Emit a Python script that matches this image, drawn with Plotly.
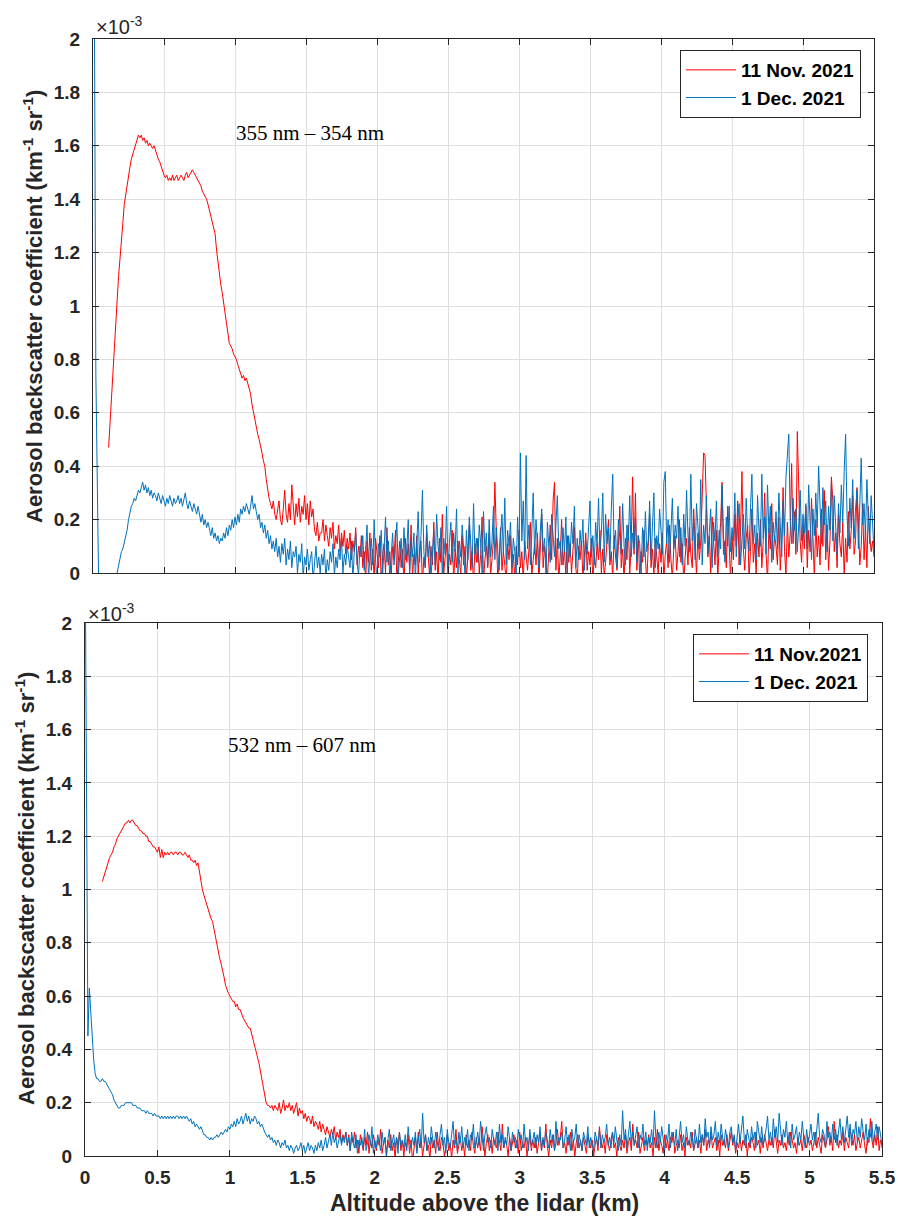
import numpy as np
import plotly.graph_objects as go

# ---------------- data (values in units of 1e-5 km^-1 sr^-1, i.e. 100 = 1e-3) ----------------
STEP_KM = 0.01

# Top panel: 355 nm - 354 nm
nov355_start = 0.11
nov355_profile = [
    47, 57, 67, 77, 86, 94, 102, 111, 119, 125,
    131, 138, 142, 145, 148, 152, 155, 157, 159, 160,
    162, 164, 163, 164, 162, 163, 161, 162, 160, 161,
    160, 159, 160, 158, 157, 155, 154, 152, 151, 149,
    148, 149, 147, 148, 147, 149, 147, 148, 149, 147,
    148, 149, 148, 147, 149, 150, 148, 149, 150, 151,
    150, 149, 148, 147, 146, 145, 143, 142, 141, 140,
    138, 136, 134, 132, 130, 127, 121, 116, 111, 108,
    105, 101, 98, 95, 90, 86, 85, 84, 82, 81,
    80, 78, 76, 74, 73, 74, 72, 73, 71, 70,
    67, 63, 60, 58, 55, 52, 50, 48, 45, 42,
    40, 35, 31, 28, 26, 24, 27, 22, 20, 24,
    27, 20, 18, 24, 31, 22, 19, 26, 20, 33,
    24, 18, 26, 21, 28, 19, 25, 22, 29, 20,
    26, 18, 27, 21, 24, 16, 14, 19, 12, 15,
    15, 20, 12, 18, 14, 10, 17, 13, 19, 9,
    14, 11, 18, 8, 15, 10, 16, 7, 13, 9,
    15, 5, 12, 8, 17, 3, 10, 6, 14, 2,
]
nov355_noise = [
    8, -3, 12, 4, 15, 1, 9, -2, 13, 6,
    2, 14, -4, 7, 11, 0, 17, 3, 8, -1,
    10, 5, 16, -3, 6, 12, 2, 9, -5, 13,
    4, 11, 1, 18, -2, 7, 3, 14, 0, 9,
    12, -4, 6, 2, 15, 5, -1, 10, 3, 19,
    1, 8, -3, 13, 4, 22, 0, 6, 11, -2,
    7, 3, 16, -4, 9, 2, 12, 5, -1, 14,
    3, 10, -2, 6, 18, 1, 8, -5, 11, 4,
    13, 0, 7, 21, -3, 5, 10, 2, 15, -1,
    6, 12, 34, 9, -2, 4, 17, 1, 8, 3,
    -4, 11, 5, 14, 0, 7, -2, 10, 3, 16,
    2, 8, -3, 12, 5, 1, 9, 19, -1, 6,
    11, 3, 15, -4, 7, 22, 2, 10, 4, -2,
    8, 18, 5, 27, 34, 1, 13, -3, 6, 20,
    3, 9, -1, 14, 4, 11, 0, 7, 17, 2,
    -3, 10, 5, 12, -2, 6, 15, 1, 8, 3,
    13, -4, 7, 2, 11, 5, 16, 0, 9, -1,
    4, 12, 20, 3, 8, -2, 14, 6, 1, 10,
    25, 2, 9, -3, 13, 5, 18, 0, 11, 36,
    7, 30, 1, 14, -2, 8, 4, 16, 3, -4,
    10, 22, 2, 9, -1, 13, 6, 0, 11, 4,
    15, -3, 7, 12, 2, 18, 5, -2, 9, 14,
    1, 8, 20, 4, 11, -4, 6, 13, 3, 17,
    7, 2, 24, 10, -1, 15, 5, 12, 26, 45,
    44, 28, 6, 14, 0, 21, 9, 3, 16, -2,
    11, 19, 34, 7, 12, 2, 25, 8, -3, 14,
    5, 22, 10, 27, 3, 16, 38, 9, 1, 13,
    18, -2, 8, 24, 4, 11, 0, 15, 6, 20,
    2, 12, 30, 7, -3, 17, 9, 26, 5, 14,
    10, 3, 21, 1, 13, 32, 8, -1, 19, 6,
    15, 41, 11, 23, 7, 53, 30, 12, 4, 18,
    9, 25, 2, 16, 8, 28, 13, -2, 20, 6,
    14, 3, 24, 10, 31, 5, 18, 1, 12, 36,
    27, 8, 15, 2, 22, 11, 6, 19, -1, 13,
    4, 23, 9, 16, 29, 7, 12, 32, 20, 3,
    10, 26, 5, 17, 2, 25, 14, 8, 12, 6,
]

dec355_near_start = 0.0
dec355_near = [260, 210, 75, 28, -5]
dec355_start = 0.17
dec355_profile = [
    0, 3, 6, 8, 9, 11, 14, 16, 20, 23, 25, 26, 28, 27,
    29, 31, 30, 32, 34, 31, 33, 30, 32, 29,
    31, 28, 30, 29, 27, 30, 28, 26, 29, 27,
    25, 28, 26, 29, 27, 25, 28, 26, 27, 29,
    26, 28, 25, 27, 30, 26, 24, 27, 25, 23,
    26, 24, 22, 25, 21, 19, 22, 18, 20, 17,
    19, 16, 14, 17, 13, 15, 12, 14, 11, 13,
    12, 15, 13, 17, 14, 18, 16, 20, 17, 21,
    18, 22, 19, 24, 22, 25, 23, 26, 24, 22,
    25, 29, 24, 26, 23, 20, 22, 17, 19, 15,
    18, 13, 16, 11, 14, 9, 12, 8, 13, 6,
    10, 4, 11, 7, 13, 3, 9, 5, 12, 2,
    8, 6, 10, 0, 7, 4, 11, -2, 6, 3,
    9, 1, 5, 8, -3, 4, 10, 2, 6, 0,
    7, 3, 9, -2, 5, 1, 8, 4, 11, -1,
    6, 2, 9, 5, 13, 0, 7, 3, 10, 6,
]
dec355_noise = [
    2, 12, -3, 8, 15, 4, -1, 10, 6, 14,
    1, 9, 18, -2, 7, 13, 3, 20, 5, -4,
    11, 6, 16, 0, 9, 21, 4, 12, -2, 8,
    15, 3, 10, 19, -1, 7, 13, 2, 17, 5,
    9, 20, 0, 12, 6, 15, -3, 11, 23, 4,
    14, 31, 8, 2, 18, 6, 12, -2, 9, 16,
    3, 22, 10, 5, 17, -1, 13, 7, 25, 2,
    11, 19, 4, 15, 8, 24, 0, 12, 6, 18,
    9, -2, 16, 5, 21, 10, 2, 26, 7, 13,
    4, 18, 11, 0, 23, 8, 15, 3, 20, 6,
    12, 25, 5, 17, 9, 1, 14, 22, 7, 28,
    3, 16, 10, 19, 2, 13, 8, 0, 21, 6,
    45, 12, 27, 5, 44, 9, 18, 3, 15, 30,
    7, 20, 11, 2, 16, 24, 8, 13, -1, 19,
    10, 4, 22, 15, 6, 18, 29, 9, 12, 3,
    17, 8, 21, 0, 14, 6, 19, 11, 25, 2,
    13, 5, 16, 9, 20, 1, 12, 7, 18, 27,
    6, 14, 3, 19, 10, 28, 8, 15, 30, 4,
    22, 11, 17, 5, 24, 37, 9, 16, 2, 20,
    13, 7, 26, 10, 3, 18, 12, 29, 6, 15,
    9, 21, 4, 14, 11, 0, 17, 6, 23, 8,
    12, 27, 5, 19, 30, 2, 14, 9, 24, 16,
    7, 34, 38, 11, 20, 4, 15, 28, 9, 18,
    13, 25, 6, 17, 3, 22, 10, 31, 14, 8,
    37, 12, 20, 5, 26, 16, 9, 35, 3, 18,
    11, 29, 7, 15, 24, 2, 19, 12, 27, 6,
    16, 9, 33, 14, 4, 21, 10, 25, 8, 17,
    12, 30, 6, 19, 26, 3, 15, 22, 9, 28,
    14, 8, 24, 37, 11, 18, 5, 29, 16, 10,
    37, 13, 21, 7, 33, 15, 25, 4, 19, 12,
    23, 9, 30, 17, 6, 27, 14, 36, 45, 52,
    20, 11, 28, 16, 24, 8, 18, 31, 12, 22,
    15, 26, 9, 33, 19, 5, 24, 14, 30, 17,
    40, 21, 11, 32, 18, 27, 8, 25, 16, 34,
    12, 29, 20, 7, 26, 15, 33, 19, 38, 52,
    22, 10, 28, 17, 35, 13, 24, 31, 9, 27,
    43, 18, 26, 14, 35, 21, 11, 29, 16, 8,
]

# Bottom panel: 532 nm - 607 nm
nov532_start = 0.12
nov532_profile = [
    103, 105, 107, 109, 110, 112, 113, 114, 116,
    117, 119, 120, 121, 122, 123, 124, 125, 125, 126,
    125, 126, 126, 125, 124, 124, 123, 122, 122, 121,
    121, 120, 120, 118, 118, 117, 116, 116, 115, 114,
    116, 112, 115, 112, 114, 113, 114, 113, 114, 114,
    113, 114, 114, 113, 114, 114, 113, 113, 114, 113,
    112, 113, 111, 111, 110, 111, 109, 110, 106, 103,
    100, 98, 96, 95, 93, 91, 89, 88, 85, 83,
    80, 77, 74, 72, 70, 67, 64, 62, 61, 60,
    59, 58, 58, 56, 57, 55, 55, 53, 52, 51,
    50, 49, 48, 48, 46, 44, 42, 40, 38, 35,
    32, 29, 27, 23, 20, 19, 19, 18, 19, 17,
    19, 18, 17, 20, 16, 18, 21, 17, 19, 18,
    20, 17, 19, 16, 18, 20, 15, 18, 16, 17,
    14, 16, 13, 15, 14, 12, 15, 11, 13, 12,
    10, 13, 9, 12, 10, 8, 11, 9, 7, 10,
    8, 11, 6, 9, 7, 10, 5, 8, 6, 9,
]
nov532_noise = [
    4, 8, 2, 7, 5, 9, 3, 6, 1, 8,
    5, 2, 7, 4, 9, 1, 6, 3, 8, 5,
    2, 6, 4, 10, 1, 5, 7, 0, 6, 3,
    8, 2, 5, -1, 7, 4, 9, 2, 6, 0,
    5, 3, 8, 1, 6, -2, 4, 7, 2, 9,
    3, 6, 0, 5, 8, 2, 4, -1, 7, 3,
    6, 1, 9, 4, 2, 7, 5, 0, 3, 8,
    2, 5, -1, 6, 3, 10, 1, 4, 7, 2,
    5, 0, 8, 3, 6, 2, 9, 4, 1, 7,
    3, 6, 2, 11, 4, 0, 5, 8, 2, 6,
    1, 7, 4, 3, 9, 5, 2, 12, 3, 6,
    4, 0, 7, 2, 5, 8, 3, 6, 1, 9,
    2, 5, 3, 7, 0, 4, 8, 2, 6, 3,
    7, 1, 5, 9, 2, 6, 3, 12, 4, 0,
    6, 3, 8, 2, 5, 10, 4, 7, 13, 3,
    5, 1, 7, 4, 9, 2, 6, 0, 5, 8,
    3, 6, 2, 7, 4, 1, 8, 5, 3, 6,
    0, 4, 7, 2, 11, 5, 3, 6, 1, 8,
    4, 2, 6, 9, 3, 5, 0, 7, 4, 2,
    6, 3, 8, 1, 5, 7, 2, 12, 4, 6,
    3, 9, 1, 5, 7, 2, 6, 4, 8, 3,
    5, 0, 7, 3, 10, 2, 6, 4, 1, 8,
    3, 6, 2, 7, 5, 9, 1, 4, 6, 3,
    8, 2, 5, 0, 7, 4, 6, 3, 9, 2,
    5, 7, 3, 6, 1, 8, 4, 10, 2, 6,
    4, 9, 3, 5, 7, 2, 6, 0, 8, 4,
    6, 3, 8, 2, 5, 9, 4, 7, 1, 5,
    3, 7, 2, 6, 4, 8, 0, 5, 3, 7,
    5, 2, 9, 4, 6, 1, 7, 3, 8, 5,
    2, 6, 4, 7, 3, 10, 5, 1, 6, 4,
    8, 3, 5, 2, 7, 4, 9, 6, 3, 5,
    1, 7, 4, 6, 2, 8, 5, 3, 7, 4,
    6, 2, 5, 9, 3, 7, 4, 1, 8, 5,
    3, 6, 11, 4, 7, 2, 13, 5, 8, 3,
    6, 4, 9, 2, 7, 5, 3, 10, 6, 4,
    8, 2, 5, 7, 3, 6, 9, 4, 1, 7,
    5, 14, 6, 3, 8, 4, 11, 2, 6, 5,
]

dec532_start = 0.0
dec532_profile = [
    240, 140, 45, 63, 54, 42, 36, 31, 29, 29,
    28, 28, 29, 28, 28, 27, 26, 25, 24, 23,
    21, 20, 19, 18, 18, 19, 19, 19, 20, 20,
    20, 20, 20, 19, 19, 19, 18, 18, 18, 17,
    17, 17, 16, 17, 16, 16, 16, 15, 16, 15,
    15, 15, 14, 15, 14, 15, 14, 15, 14, 15,
    14, 15, 14, 15, 15, 14, 15, 14, 15, 14,
    15, 14, 13, 14, 12, 13, 11, 12, 11, 10,
    11, 9, 8, 8, 7, 7, 6, 7, 6, 7,
    7, 8, 7, 8, 9, 8, 9, 10, 9, 11,
    10, 12, 11, 13, 11, 14, 12, 13, 15, 12,
    14, 16, 13, 15, 12, 14, 13, 15, 14, 12,
    13, 11, 12, 10, 9, 8, 7, 8, 6, 7,
    5, 6, 4, 6, 5, 3, 5, 4, 6, 3,
    4, 2, 4, 3, 1, 3, 4, 2, 3, 5,
    2, 4, 1, 3, 5, 2, 4, 3, 1, 4,
    2, 5, 3, 6, 2, 4, 7, 3, 5, 8,
    4, 9, 5, 7, 3, 6, 8, 4, 7, 5, 9,
]
dec532_noise = [
    4, 7, 2, 9, 5, 3, 8, 1, 6, 4,
    7, 3, 10, 2, 5, 8, 4, 11, 1, 6,
    3, 8, 5, 2, 9, 4, 7, 0, 6, 10,
    2, 5, 8, 3, 7, 1, 9, 4, 6, 3,
    8, 2, 11, 5, 3, 7, 4, 9, 1, 6,
    10, 3, 16, 5, 8, 2, 7, 4, 11, 6,
    3, 9, 5, 2, 8, 12, 4, 7, 1, 10,
    5, 3, 8, 13, 4, 6, 2, 9, 5, 11,
    3, 7, 4, 10, 2, 8, 6, 12, 3, 5,
    9, 4, 13, 6, 2, 8, 11, 5, 7, 3,
    10, 6, 4, 9, 2, 12, 5, 8, 3, 7,
    4, 11, 6, 2, 9, 5, 7, 3, 10, 6,
    8, 3, 12, 5, 7, 2, 10, 4, 6, 9,
    3, 8, 5, 11, 2, 7, 4, 9, 6, 3,
    10, 5, 8, 2, 13, 4, 7, 6, 9, 3,
    6, 11, 4, 8, 2, 10, 5, 7, 12, 3,
    8, 5, 2, 9, 6, 4, 11, 3, 7, 5,
    2, 9, 6, 4, 10, 3, 8, 5, 7, 12,
    4, 7, 3, 9, 5, 11, 6, 2, 8, 4,
    17, 6, 10, 3, 8, 13, 5, 9, 4, 7,
    11, 3, 8, 6, 12, 4, 9, 2, 7, 5,
    10, 4, 17, 6, 3, 9, 5, 11, 7, 2,
    8, 5, 12, 3, 9, 6, 4, 10, 2, 7,
    13, 5, 8, 3, 11, 6, 4, 9, 7, 2,
    10, 6, 3, 12, 5, 8, 4, 14, 7, 9,
    3, 11, 6, 8, 13, 4, 9, 5, 12, 7,
    4, 10, 6, 3, 9, 11, 5, 8, 2, 7,
    12, 5, 9, 15, 6, 3, 10, 7, 4, 11,
    6, 9, 3, 13, 8, 5, 11, 4, 7, 10,
    15, 6, 9, 4, 14, 7, 11, 5, 16, 8,
    4, 10, 7, 13, 5, 9, 3, 12, 6, 8,
    11, 4, 9, 6, 13, 7, 3, 10, 5, 8,
    12, 6, 9, 4, 11, 16, 7, 5, 10, 8,
    3, 13, 7, 9, 5, 12, 6, 10, 4, 8,
    14, 6, 11, 5, 9, 15, 7, 12, 4, 10,
    8, 13, 5, 11, 7, 14, 9, 6, 12, 4,
    10, 7, 13, 5, 9, 12, 6, 11, 8, 3,
]

legend_top = ["11 Nov. 2021", "1 Dec. 2021"]
legend_bottom = ["11 Nov.2021", "1 Dec. 2021"]
panel_labels = ["355 nm \u2013 354 nm", "532 nm \u2013 607 nm"]
x_ticks = [0, 0.5, 1, 1.5, 2, 2.5, 3, 3.5, 4, 4.5, 5, 5.5]
x_ticktext = ["0", "0.5", "1", "1.5", "2", "2.5", "3", "3.5", "4", "4.5", "5", "5.5"]
y_ticks = [0, 0.2, 0.4, 0.6, 0.8, 1.0, 1.2, 1.4, 1.6, 1.8, 2.0]
y_ticktext = ["0", "0.2", "0.4", "0.6", "0.8", "1", "1.2", "1.4", "1.6", "1.8", "2"]

RED = "#ff0000"
BLUE = "#0072BD"
AX = "#262626"
GRID = "#dedede"
FONT = "Arial, Liberation Sans, sans-serif"


def series(start, *parts):
    vals = [v for p in parts for v in p]
    x = np.round(start + STEP_KM * np.arange(len(vals)), 2)
    y = np.array(vals, dtype=float) / 100.0  # -> units of 1e-3
    return list(x), list(y)


x_n355, y_n355 = series(nov355_start, nov355_profile, nov355_noise)
xa, ya = series(dec355_near_start, dec355_near)
xb, yb = series(dec355_start, dec355_profile, dec355_noise)
x_d355, y_d355 = xa + [None] + xb, ya + [None] + yb
x_n532, y_n532 = series(nov532_start, nov532_profile, nov532_noise)
x_d532, y_d532 = series(dec532_start, dec532_profile, dec532_noise)

W, H = 898, 1218


def px_x(p):
    return p / W


def px_y(p):
    return 1 - p / H


fig = go.Figure()
fig.add_trace(go.Scatter(x=x_n355, y=y_n355, mode="lines", line=dict(color=RED, width=1),
                         name=legend_top[0], xaxis="x", yaxis="y", legend="legend"))
fig.add_trace(go.Scatter(x=x_d355, y=y_d355, mode="lines", line=dict(color=BLUE, width=1),
                         name=legend_top[1], xaxis="x", yaxis="y", legend="legend"))
fig.add_trace(go.Scatter(x=x_n532, y=y_n532, mode="lines", line=dict(color=RED, width=1),
                         name=legend_bottom[0], xaxis="x2", yaxis="y2", legend="legend2"))
fig.add_trace(go.Scatter(x=x_d532, y=y_d532, mode="lines", line=dict(color=BLUE, width=1),
                         name=legend_bottom[1], xaxis="x2", yaxis="y2", legend="legend2"))

axis_common = dict(showline=True, linecolor=AX, linewidth=1, mirror="ticks",
                   ticks="inside", ticklen=6, tickcolor=AX, showgrid=True,
                   gridcolor=GRID, gridwidth=1, zeroline=False, automargin=False,
                   tickfont=dict(family=FONT, size=19, color=AX, weight="bold"))

legend_common = dict(xanchor="right", yanchor="top", bgcolor="white", bordercolor=AX,
                     borderwidth=1, itemwidth=50, tracegroupgap=0,
                     font=dict(family=FONT, size=19, color="black", weight="bold"))

fig.update_layout(
    width=W, height=H, margin=dict(l=0, r=0, t=0, b=0, autoexpand=False),
    paper_bgcolor="white", plot_bgcolor="white",
    font=dict(family=FONT, color=AX),
    xaxis=dict(domain=[px_x(93), px_x(874)], range=[0, 5.5], anchor="y",
               tickvals=x_ticks, showticklabels=False, **axis_common),
    yaxis=dict(domain=[px_y(573), px_y(39)], range=[0, 2], anchor="x",
               tickvals=y_ticks, ticktext=y_ticktext, ticklabelstandoff=8, **axis_common),
    xaxis2=dict(domain=[px_x(85), px_x(882)], range=[0, 5.5], anchor="y2",
                tickvals=x_ticks, ticktext=x_ticktext, ticklabelstandoff=4, **axis_common),
    yaxis2=dict(domain=[px_y(1156), px_y(623)], range=[0, 2], anchor="x2",
                tickvals=y_ticks, ticktext=y_ticktext, ticklabelstandoff=8, **axis_common),
    legend=dict(x=px_x(861), y=px_y(50), **legend_common),
    legend2=dict(x=px_x(868), y=px_y(634), **legend_common),
    showlegend=True,
)

ytitle = "Aerosol backscatter coefficient (km<sup>-1</sup> sr<sup>-1</sup>)"
annos = [
    dict(text=ytitle, x=px_x(33), y=px_y(307), textangle=-90, size=22),
    dict(text=ytitle, x=px_x(25), y=px_y(889), textangle=-90, size=22),
    dict(text="Altitude above the lidar (km)", x=px_x(484), y=px_y(1203), textangle=0, size=23),
]
for a in annos:
    fig.add_annotation(xref="paper", yref="paper", showarrow=False,
                       xanchor="center", yanchor="middle", text=a["text"],
                       x=a["x"], y=a["y"], textangle=a["textangle"],
                       font=dict(family=FONT, size=a["size"], color=AX, weight="bold"))

for xx, yy in [(94, 25), (86, 612)]:
    fig.add_annotation(xref="paper", yref="paper", showarrow=False, x=px_x(xx), y=px_y(yy),
                       xanchor="left", yanchor="middle", text="\u00d710<sup>-3</sup>",
                       font=dict(family=FONT, size=20, color=AX))

for label, xx, yy in [(panel_labels[0], 234, 133), (panel_labels[1], 226, 745)]:
    fig.add_annotation(xref="paper", yref="paper", showarrow=False, x=px_x(xx), y=px_y(yy),
                       xanchor="left", yanchor="middle", text=label,
                       font=dict(family="Liberation Serif, Times New Roman, serif", size=21, color="black"))

fig.write_html("out.html", config={"displayModeBar": False},
               post_script="document.body.style.margin='0';document.body.style.padding='0';")
